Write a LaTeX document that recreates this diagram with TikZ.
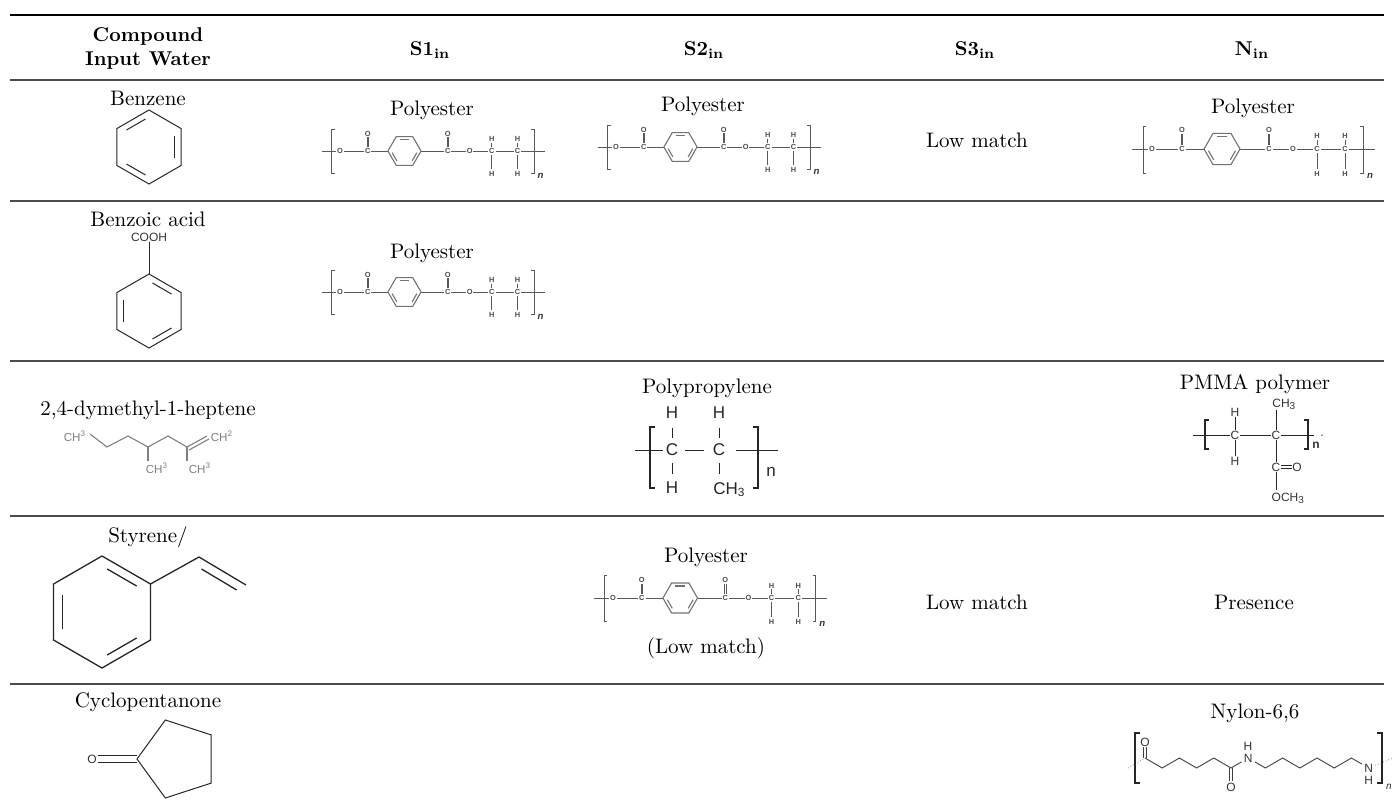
\documentclass[tikz,border=0pt]{standalone}
\usepackage{fontspec}
\newfontfamily\chemsf{Liberation Sans}
\tikzset{
  rule/.style={draw=black!70,line width=0.55pt},
  toprule/.style={draw=black,line width=1.1pt},
  hdr/.style={font=\fontsize{10}{12}\selectfont\bfseries,align=center,inner sep=0pt},
  lbl/.style={font=\fontsize{10.5}{12}\selectfont,inner sep=0pt},
  skel/.style={draw=black!85,line width=0.5pt},
  graybond/.style={draw=black!50,line width=0.55pt},
  pline/.style={draw=black!65,line width=0.4pt},
  pring/.style={draw=black!55,line width=0.55pt},
  patom/.style={font=\chemsf\bfseries\fontsize{3.7}{4}\selectfont,text=black!70,inner sep=0pt},
  pnum/.style={font=\chemsf\bfseries\itshape\fontsize{4.8}{5}\selectfont,text=black!80,inner sep=0pt},
  atom/.style={font=\chemsf\fontsize{8.5}{9}\selectfont,text=black!85,inner sep=0pt},
  smatom/.style={font=\chemsf\fontsize{6}{7}\selectfont,text=black!80,inner sep=0pt},
  grayatom/.style={font=\chemsf\fontsize{5.8}{6}\selectfont,text=black!50,inner sep=0pt},
  polyester/.pic={
    \draw[pline] (-121,0) -- (-105,0) (-97,0) -- (-75,0) (-67,0) -- (-49,0)
      (-13,0) -- (12,0) (20,0) -- (36,0) (44,0) -- (60,0) (68,0) -- (88,0) (96,0) -- (122,0);
    \draw[pline] (-71.8,-15) -- (-71.8,-4) (-70.2,-15) -- (-70.2,-4)
      (15.2,-15) -- (15.2,-4) (16.8,-15) -- (16.8,-4);
    \draw[pline] (64,-9) -- (64,-4) (64,4) -- (64,20) (92,-9) -- (92,-4) (92,4) -- (92,20);
    \draw[pline,line width=0.5pt] (-107,-23) -- (-110,-23) -- (-110,24) -- (-107,24)
      (107,-23) -- (110,-23) -- (110,24) -- (107,24);
    \draw[pring] (-31,0) +(0:18) -- +(60:18) -- +(120:18) -- +(180:18) -- +(240:18) -- +(300:18) -- cycle;
    \foreach \a in {0,120,240}
      \draw[pring,shorten <=1pt,shorten >=1pt] (-31,0) +(\a:14.5) -- +(\a+60:14.5);
    \node[patom] (-o1) at (-101,0) {O};
    \node[patom] (-c1) at (-71,0) {C};
    \node[patom] (-o2) at (-71,-19) {O};
    \node[patom] (-c2) at (16,0) {C};
    \node[patom] (-o3) at (16,-19) {O};
    \node[patom] (-o4) at (40,0) {O};
    \node[patom] (-c3) at (64,0) {C};
    \node[patom] (-h1) at (64,-13) {H};
    \node[patom] (-h2) at (64,25) {H};
    \node[patom] (-c4) at (92,0) {C};
    \node[patom] (-h3) at (92,-13) {H};
    \node[patom] (-h4) at (92,25) {H};
    \node[pnum] (-n) at (117,27) {n};
  }
}
\begin{document}
\begin{tikzpicture}[x=0.5pt,y=-0.5pt]
  \useasboundingbox (0,0) rectangle (1394,810);
  \draw[toprule] (10,15) -- (1384,15);
  \foreach \y in {80,201,361,516,684}
    \draw[rule] (10,\y) -- (1384,\y);

  \node[hdr] (hcomp) at (148,48) {Compound\\Input Water};
  \node[hdr] (hs1) at (430,50) {S1\textsubscript{in}};
  \node[hdr] (hs2) at (704,50) {S2\textsubscript{in}};
  \node[hdr] (hs3) at (975,50) {S3\textsubscript{in}};
  \node[hdr] (hn) at (1252,50) {N\textsubscript{in}};

  \node[lbl] (benzene) at (148,98) {Benzene};
  \coordinate (bzn) at (149,147);
  \draw[skel] (bzn) +(90:37) -- +(30:37) -- +(-30:37) -- +(-90:37) -- +(-150:37) -- +(150:37) -- cycle;
  \foreach \a in {-150,-30,90}
    \draw[skel,shorten <=2pt,shorten >=2pt] (bzn) +(\a:30) -- +(\a+60:30);
  \node[lbl] (s1pes) at (432,110) {Polyester};
  \pic[scale=0.92] (pes1) at (433,151) {polyester};
  \node[lbl] (s2pes) at (703,106) {Polyester};
  \pic[scale=0.92] (pes2) at (709,147) {polyester};
  \node[lbl] (s3low) at (977,140) {Low match};
  \node[lbl] (npes) at (1253,108) {Polyester};
  \pic (pes3) at (1253,149) {polyester};

  \node[lbl] (benzoic) at (148,219) {Benzoic acid};
  \node[smatom] (cooh) at (149,237) {COOH};
  \coordinate (bza) at (149,311);
  \draw[skel] (bza) +(90:37) -- +(30:37) -- +(-30:37) -- +(-90:37) -- +(-150:37) -- +(150:37) -- cycle;
  \foreach \a in {-90,150,30}
    \draw[skel,shorten <=2pt,shorten >=2pt] (bza) +(\a:30) -- +(\a+60:30);
  \draw[skel] (cooh) -- (149,274);
  \node[lbl] (s1pesb) at (432,253) {Polyester};
  \pic[scale=0.92] (pes4) at (433,292) {polyester};

  \node[lbl] (dmh) at (148,410) {2,4-dymethyl-1-heptene};
  \node[grayatom] (dm1) at (75,436) {CH\textsuperscript{3}};
  \node[grayatom] (dm2) at (157,468) {CH\textsuperscript{3}};
  \node[grayatom] (dm3) at (200,468) {CH\textsuperscript{3}};
  \node[grayatom] (dm4) at (222,436) {CH\textsuperscript{2}};
  \draw[graybond] (90,434) -- (107,447) -- (128,436) -- (148,447) -- (168,436) -- (187,447);
  \draw[graybond] (148,447) -- (148,461) (187,447) -- (187,461);
  \draw[graybond] (187,447) -- (207,436) (189,450) -- (209,439);

  \node[lbl] (s2pp) at (707,388) {Polypropylene};
  \node[atom] (ppc1) at (672,450) {C};
  \node[atom] (ppc2) at (719,450) {C};
  \node[atom] (pph1) at (672,413) {H};
  \node[atom] (pph2) at (719,413) {H};
  \node[atom] (pph3) at (672,488) {H};
  \node[atom,anchor=base west] (ppme) at (713,494) {CH\textsubscript{3}};
  \node[atom] (ppn) at (771,472) {n};
  \draw[skel,line width=0.45pt] (635,450) -- (663,450) (685,450) -- (704,450) (736,450) -- (778,450)
    (672,428) -- (672,438) (672,463) -- (672,474) (719,428) -- (719,438) (719,463) -- (719,474);
  \draw[skel,line width=0.6pt] (655,427) -- (650,427) -- (650,488) -- (655,488)
    (753,427) -- (758,427) -- (758,488) -- (753,488);

  \node[lbl] (npmma) at (1255,384) {PMMA polymer};
  \node[smatom] (pmc1) at (1235,435) {C};
  \node[smatom] (pmc2) at (1276,435) {C};
  \node[smatom] (pmc3) at (1276,467) {C};
  \node[smatom] (pmh1) at (1235,412) {H};
  \node[smatom] (pmh2) at (1235,461) {H};
  \node[smatom] (pmo) at (1297,467) {O};
  \node[smatom,anchor=base west] (pmme) at (1272,407) {CH\textsubscript{3}};
  \node[smatom,anchor=base west] (pmome) at (1271.3,501) {OCH\textsubscript{3}};
  \node[smatom,font=\chemsf\bfseries\fontsize{6}{7}\selectfont] (pmn) at (1316,445) {n};
  \node[smatom] (pmdot) at (1322,436) {.};
  \draw[skel,line width=0.45pt] (1193,435) -- (pmc1) -- (pmc2) -- (1314,435)
    (pmh1) -- (pmc1) -- (pmh2) (1276,410) -- (pmc2) -- (pmc3) -- (1276,490)
    (1281,465.5) -- (1292,465.5) (1281,468.5) -- (1292,468.5);
  \draw[skel,line width=0.55pt] (1209,420) -- (1205,420) -- (1205,449) -- (1209,449)
    (1304,420) -- (1308,420) -- (1308,449) -- (1304,449);

  \node[lbl] (styrene) at (148,537) {Styrene/};
  \coordinate (sty) at (102,612);
  \draw[skel,line width=0.65pt] (sty) +(90:56) -- +(30:56) -- +(-30:56) -- +(-90:56) -- +(-150:56) -- +(150:56) -- cycle;
  \foreach \a in {-90,150,30}
    \draw[skel,line width=0.65pt,shorten <=3pt,shorten >=3pt] (sty) +(\a:46) -- +(\a+60:46);
  \draw[skel,line width=0.65pt] (sty) +(-30:56) -- (199,557) -- (246,585);
  \draw[skel,line width=0.65pt] (201.5,569) -- (236.7,590);
  \node[lbl] (s2pesc) at (706,557) {Polyester};
  \pic[scale=0.96] (pes5) at (710,598) {polyester};
  \node[lbl] (s2low) at (706,648) {(Low match)};
  \node[lbl] (s3lowb) at (977,602) {Low match};
  \node[lbl] (npres) at (1254,602) {Presence};

  \node[lbl] (cyclo) at (148,702) {Cyclopentanone};
  \coordinate (cyc) at (178,759);
  \draw[skel] (cyc) +(180:41) -- +(108:41) -- +(36:41) -- +(-36:41) -- +(-108:41) -- cycle;
  \node[smatom] (cyco) at (92,759) {O};
  \draw[skel] (98,755.5) -- (137,755.5) (98,762.5) -- (137,762.5);

  \node[lbl] (nnylon) at (1255,713) {Nylon-6,6};
  \foreach \k in {0,...,13}
    \coordinate (ny\k) at ({1145+17.2*\k},{758+10*mod(\k,2)});
  \node[smatom,inner sep=1pt] (nyn1) at (ny6) {N};
  \node[smatom,inner sep=1pt] (nyn2) at (ny13) {N};
  \node[smatom] (nyh1) at (1248,746) {H};
  \node[smatom] (nyh2) at (1368.6,780) {H};
  \node[smatom] (nyo1) at (1145,742) {O};
  \node[smatom] (nyo2) at (1231,787) {O};
  \node[smatom,font=\chemsf\itshape\fontsize{5}{6}\selectfont] (nyn) at (1389,787) {n};
  \draw[skel,draw=black!75,line width=0.45pt] (ny0) -- (ny1) -- (ny2) -- (ny3) -- (ny4) -- (ny5) -- (nyn1)
    -- (ny7) -- (ny8) -- (ny9) -- (ny10) -- (ny11) -- (ny12) -- (nyn2);
  \draw[skel,draw=black!75,line width=0.45pt] (1143.5,747) -- (1143.5,758) (1146.5,747) -- (1146.5,758)
    (1229.5,768) -- (1229.5,781) (1232.5,768) -- (1232.5,781);
  \draw[black!45,densely dotted,line width=0.4pt] (1128,768) -- (ny0) (nyn2) -- (1393,758);
  \draw[skel,line width=0.8pt] (1140,733) -- (1135,733) -- (1135,783) -- (1140,783)
    (1377,733) -- (1382,733) -- (1382,783) -- (1377,783);
\end{tikzpicture}
\end{document}
